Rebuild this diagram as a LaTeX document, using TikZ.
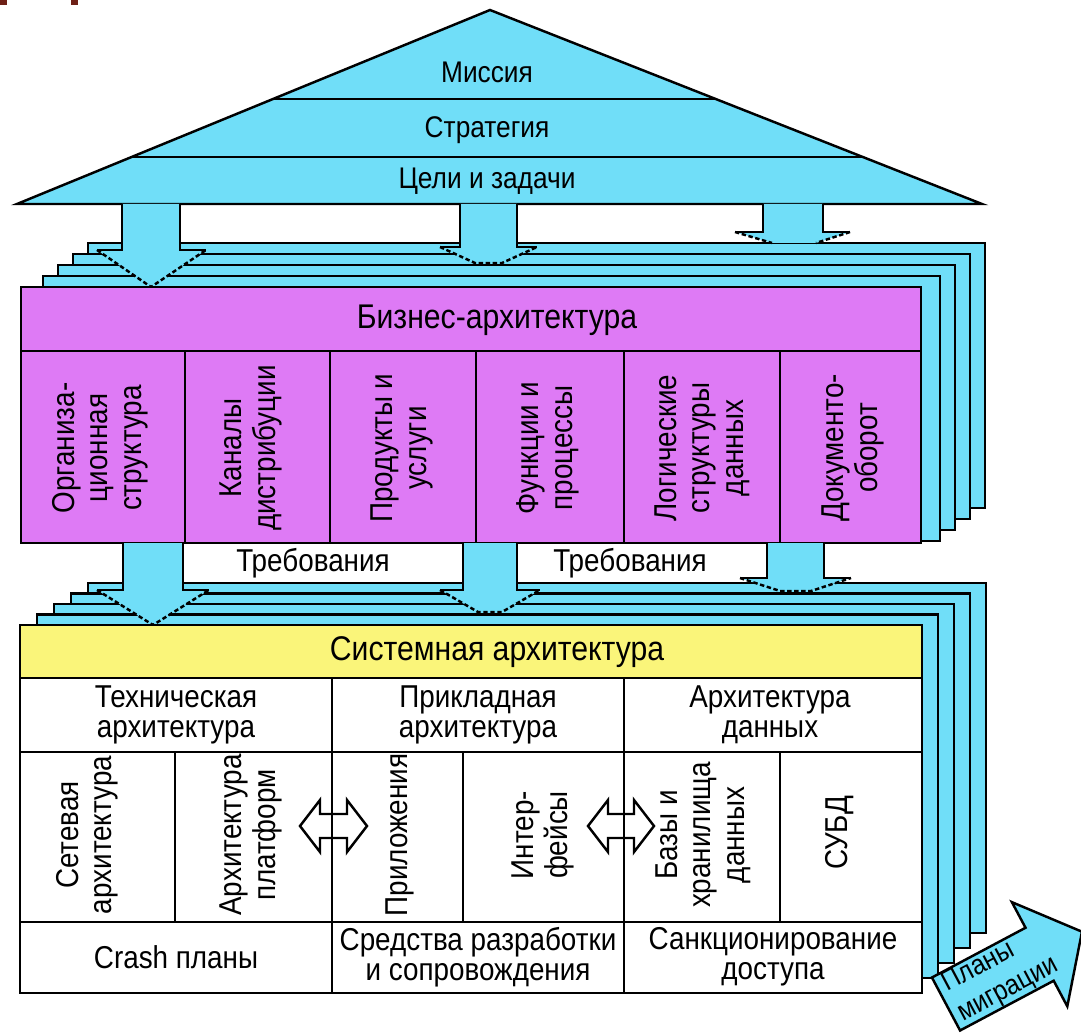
\documentclass[tikz,border=0pt]{standalone}
\usepackage{fontspec}
\setmainfont[FakeStretch=0.88]{Liberation Sans}
\usepackage{tikz}

\definecolor{roofcyan}{RGB}{112,222,248}
\definecolor{bizpink}{RGB}{222,122,245}
\definecolor{sysyellow}{RGB}{250,245,122}
\definecolor{markbrown}{RGB}{110,32,22}

\begin{document}
\begin{tikzpicture}[
    x=0.02cm, y=-0.02cm,
    line width=1.4pt,
    every node/.style={font=\fontsize{18}{17}\selectfont, inner sep=0pt},
    roof/.style={fill=roofcyan, draw=black, line join=miter},
    layer/.style={fill=roofcyan, draw=black},
    pinkbox/.style={fill=bizpink, draw=black},
    yellowbox/.style={fill=sysyellow, draw=black},
    whitebox/.style={fill=white, draw=black},
    flow/.style={fill=roofcyan},
    headedge/.style={dash pattern=on 2.5pt off 1.5pt},
    rooflabel/.style={font=\fontsize{17}{17}\selectfont},
    header/.style={font=\fontsize{19.5}{19}\selectfont},
    vlabel/.style={rotate=90, align=center, font=\fontsize{18}{19}\selectfont},
    hlabel/.style={align=center},
    twoway/.style={fill=white, draw=black, line join=miter}
]
    \useasboundingbox (0,0) rectangle (1081,1033);
    \clip (0,0) rectangle (1081,1033);

    % Corner marks
    \fill[markbrown] (0,0) rectangle (7,5);
    \fill[markbrown] (71,0) rectangle (78,5);

    % Roof: mission / strategy / goals
    \draw[roof] (17,204) -- (490,10) -- (982,204) -- cycle;
    \begin{scope}
        \clip (17,204) -- (490,10) -- (982,204) -- cycle;
        \draw (0,99) -- (1000,99);
        \draw (0,157) -- (1000,157);
    \end{scope}
    \node[rooflabel] (mission) at (487,72) {Миссия};
    \node[rooflabel] (strategy) at (487,130) {Стратегия};
    \node[rooflabel] (goals) at (487,181) {Цели и задачи};

    % Business layer stack
    \foreach \k in {4,3,2,1}
        \draw[layer] ({28+15*\k},{287-11*\k}) rectangle ({925+15*\k},{552-11*\k});

    % Arrows roof -> business
    \fill[flow] (122,204) -- (122,250) -- (97,250) -- (151,287) -- (206,250) -- (180,250) -- (180,204) -- cycle;
    \draw (122,204) -- (122,250) -- (97,250);
    \draw (180,204) -- (180,250) -- (206,250);
    \draw[headedge] (97,250) -- (151,287) -- (206,250);

    \fill[flow] (460,204) -- (460,247) -- (440,247) -- (475,263) -- (502,263) -- (537,247) -- (517,247) -- (517,204) -- cycle;
    \draw (460,204) -- (460,247) -- (440,247);
    \draw (517,204) -- (517,247) -- (537,247);
    \draw[headedge] (440,247) -- (475,263) -- (502,263) -- (537,247);

    \fill[flow] (763,204) -- (763,232) -- (735,232) -- (772,243) -- (816,243) -- (850,232) -- (823,232) -- (823,204) -- cycle;
    \draw (763,204) -- (763,232) -- (735,232);
    \draw (823,204) -- (823,232) -- (850,232);
    \draw[headedge] (735,232) -- (772,243);
    \draw[headedge] (850,232) -- (816,243);

    % Business architecture
    \draw[pinkbox] (21,287) rectangle (921,543);
    \draw (21,351) -- (921,351);
    \foreach \x in {185,330,476,624,780}
        \draw (\x,351) -- (\x,543);
    \node[header] (business) at (497,320) {Бизнес-архитектура};
    \node[vlabel] (orgstruct) at (100,448) {Организа-\\ционная\\структура};
    \node[vlabel] (channels) at (251,448) {Каналы\\дистрибуции};
    \node[vlabel] (products) at (402,448) {Продукты и\\услуги};
    \node[vlabel] (functions) at (548,448) {Функции и\\процессы};
    \node[vlabel] (logdata) at (702,448) {Логические\\структуры\\данных};
    \node[vlabel] (docflow) at (853,448) {Документо-\\оборот};

    % System layer stack
    \foreach \k in {4,3,2,1}
        \draw[layer] ({20+17*\k},{625-10.5*\k}) rectangle ({922+16*\k},{993-15*\k});

    % Requirements
    \draw[whitebox] (183,543) rectangle (463,583);
    \draw[whitebox] (517,543) rectangle (767,583);
    \node (req1) at (313,563) {Требования};
    \node (req2) at (630,563) {Требования};

    % Arrows business -> system
    \fill[flow] (123,543) -- (123,590) -- (97,590) -- (153,625) -- (209,590) -- (183,590) -- (183,543) -- cycle;
    \draw (123,543) -- (123,590) -- (97,590);
    \draw (183,543) -- (183,590) -- (209,590);
    \draw[headedge] (97,590) -- (153,625) -- (209,590);

    \fill[flow] (463,543) -- (463,590) -- (440,590) -- (478,612) -- (502,612) -- (540,590) -- (517,590) -- (517,543) -- cycle;
    \draw (463,543) -- (463,590) -- (440,590);
    \draw (517,543) -- (517,590) -- (540,590);
    \draw[headedge] (440,590) -- (478,612) -- (502,612) -- (540,590);

    \fill[flow] (767,543) -- (767,578) -- (740,578) -- (780,591) -- (811,591) -- (851,578) -- (824,578) -- (824,543) -- cycle;
    \draw (767,543) -- (767,578) -- (740,578);
    \draw (824,543) -- (824,578) -- (851,578);
    \draw[headedge] (740,578) -- (780,591) -- (811,591) -- (851,578);

    % System architecture
    \fill[white] (20,678) rectangle (922,993);
    \draw[twoway] (300,826) -- (320,800) -- (320,814) -- (347,814) -- (347,800) -- (367,826)
        -- (347,852) -- (347,838) -- (320,838) -- (320,852) -- cycle;
    \draw[twoway] (588,826) -- (608,800) -- (608,814) -- (634,814) -- (634,800) -- (654,826)
        -- (634,852) -- (634,838) -- (608,838) -- (608,852) -- cycle;
    \draw[yellowbox] (20,625) rectangle (922,678);
    \draw (20,678) rectangle (922,993);
    \draw (20,752) -- (922,752);
    \draw (20,922) -- (922,922);
    \foreach \x in {332,624}
        \draw (\x,678) -- (\x,993);
    \foreach \x in {175,463,780}
        \draw (\x,752) -- (\x,922);

    \node[header] (system) at (497,652) {Системная архитектура};
    \node[hlabel] (techarch) at (176,715) {Техническая\\архитектура};
    \node[hlabel] (apparch) at (478,715) {Прикладная\\архитектура};
    \node[hlabel] (dataarch) at (770,715) {Архитектура\\данных};
    \node[vlabel] (network) at (87,835) {Сетевая\\архитектура};
    \node[vlabel] (platform) at (251,835) {Архитектура\\платформ};
    \node[vlabel] (apps) at (400,835) {Приложения};
    \node[vlabel] (interfaces) at (543,835) {Интер-\\фейсы};
    \node[vlabel] (stores) at (703,835) {Базы и\\хранилища\\данных};
    \node[vlabel] (dbms) at (840,833) {СУБД};
    \node[hlabel] (crash) at (176,957) {Crash планы};
    \node[hlabel] (devtools) at (478,957) {Средства разработки\\и сопровождения};
    \node[hlabel] (access) at (773,957) {Санкционирование\\доступа};

    % Migration plans arrow
    \begin{scope}[shift={(946,1004)}, rotate=28]
        \draw[roof] (0,-30) -- (106,-30) -- (106,-59) -- (154,0) -- (106,59) -- (106,30) -- (0,30) -- cycle;
        \coordinate (migstart) at (6,0);
    \end{scope}
    \node[rotate=28, anchor=west, align=left, font=\fontsize{16}{19}\selectfont] (migration) at (migstart) {Планы\\миграции};
\end{tikzpicture}
\end{document}
